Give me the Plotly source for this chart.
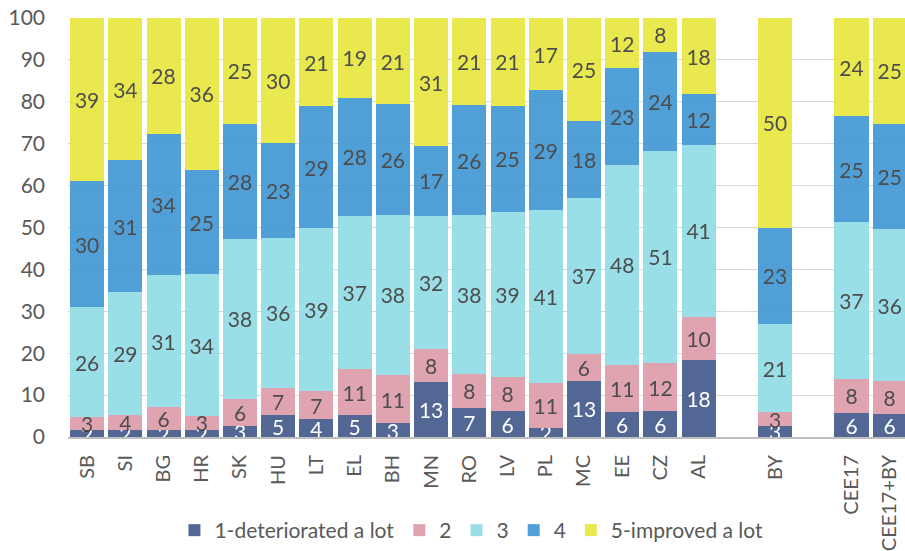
import plotly.graph_objects as go

categories = ["SB", "SI", "BG", "HR", "SK", "HU", "LT", "EL", "BH", "MN", "RO", "LV",
              "PL", "MC", "EE", "CZ", "AL", "BY", "CEE17", "CEE17+BY"]
axis_order = ["SB", "SI", "BG", "HR", "SK", "HU", "LT", "EL", "BH", "MN", "RO", "LV",
              "PL", "MC", "EE", "CZ", "AL", " ", "BY", "  ", "CEE17", "CEE17+BY"]

s1 = [1.7, 1.6, 1.6, 1.7, 2.7, 5.2, 4.2, 5.2, 3.3, 13.2, 7.0, 6.2, 2.1, 13.4, 6.0, 6.1, 18.3, 2.6, 5.7, 5.5]
s2 = [3.1, 3.6, 5.6, 3.3, 6.4, 6.6, 6.8, 11.0, 11.4, 7.8, 8.1, 8.2, 10.9, 6.4, 11.2, 11.6, 10.3, 3.3, 8.2, 7.8]
s3 = [26.2, 29.4, 31.4, 33.8, 38.2, 35.6, 38.9, 36.6, 38.4, 31.8, 37.8, 39.4, 41.1, 37.3, 47.8, 50.6, 41.2, 21.0, 37.3, 36.3]
s4 = [30.0, 31.4, 33.8, 25.0, 27.5, 22.8, 29.0, 28.2, 26.3, 16.6, 26.4, 25.3, 28.7, 18.3, 23.0, 23.6, 12.0, 23.1, 25.3, 25.2]
s5 = [39.0, 34.0, 27.6, 36.2, 25.2, 29.8, 21.1, 19.0, 20.6, 30.6, 20.7, 20.9, 17.2, 24.6, 12.0, 8.1, 18.2, 50.0, 23.5, 25.2]

series_names = ["1-deteriorated a lot", "2", "3", "4", "5-improved a lot"]
series_values = [s1, s2, s3, s4, s5]
colors = ["#465c8c", "#dd9eab", "#93dce6", "#4498d4", "#e8e842"]
text_colors = ["#ffffff", "#404040", "#404040", "#404040", "#404040"]

FONT = "Lato, Open Sans, sans-serif"

fig = go.Figure()
for name, vals, col, tcol in zip(series_names, series_values, colors, text_colors):
    fig.add_trace(go.Bar(
        x=categories, y=vals, name=name,
        marker=dict(color=col, line=dict(width=0)),
        opacity=0.93,
        texttemplate="%{y:.0f}",
        textposition="inside",
        insidetextanchor="middle",
        textangle=0,
        constraintext="none",
        textfont=dict(family=FONT, size=21, color=tcol),
        cliponaxis=True,
    ))

fig.update_layout(
    barmode="stack",
    bargap=0.11,
    width=905, height=551,
    margin=dict(l=68, r=0, t=18, b=113),
    paper_bgcolor="white", plot_bgcolor="white",
    font=dict(family=FONT, color="#595959", size=21),
    uniformtext=dict(minsize=21, mode="show"),
    legend=dict(orientation="h", x=0.482, xanchor="center", y=-0.175, yanchor="top",
                font=dict(family=FONT, size=21, color="#595959"),
                itemwidth=30, tracegroupgap=0, traceorder="normal"),
    xaxis=dict(type="category", categoryorder="array", categoryarray=axis_order,
               range=[-0.5, 21.4], tickangle=-90, showgrid=False, automargin=False,
               tickfont=dict(family=FONT, size=20, color="#595959"),
               showline=True, linecolor="#bfbfbf", linewidth=2, ticks="",
               ticklabelstandoff=8),
    yaxis=dict(range=[0, 100], dtick=10, showgrid=True, gridcolor="#d9d9d9", gridwidth=1,
               zeroline=False, automargin=False,
               tickfont=dict(family=FONT, size=21, color="#595959"),
               ticks="", ticklabelstandoff=22),
)

fig.write_html("out.html",
               config={"displayModeBar": False},
               post_script="document.body.style.margin='0';document.body.style.overflow='hidden';")
